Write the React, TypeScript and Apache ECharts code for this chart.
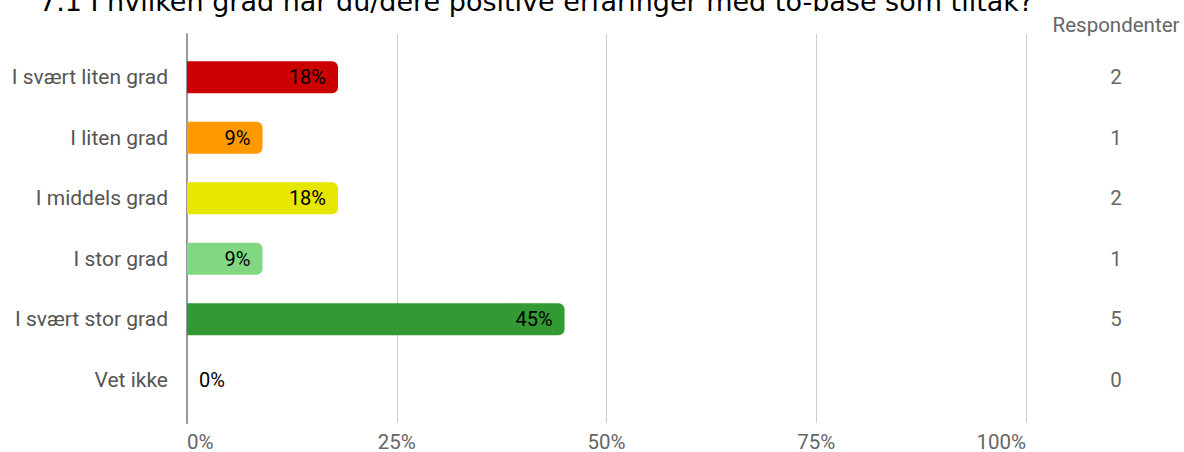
import React, { useEffect, useRef } from "react";
import * as echarts from "echarts";

const TITLE = "7.1 I hvilken grad har du/dere positive erfaringer med to-base som tiltak?";
const categories = ["I svært liten grad", "I liten grad", "I middels grad", "I stor grad", "I svært stor grad", "Vet ikke"];
const percentages = [18, 9, 18, 9, 45, 0];
const respondents = [2, 1, 2, 1, 5, 0];
const barColors = ["#cc0000", "#ff9900", "#e6e600", "#82d882", "#339933", "#cccccc"];
const xTicks = [0, 25, 50, 75, 100];

export default function App() {
  const ref = useRef<HTMLDivElement>(null);
  useEffect(() => {
    if (!ref.current) return;
    const chart = echarts.init(ref.current, null, { renderer: "svg" });
    const font = "Roboto";
    const GL = 187, GR = 1184 - 1026;
    chart.setOption({
      animation: false,
      textStyle: { fontFamily: font },
      grid: [
        { left: GL, right: GR, top: 34, bottom: 29 },
        { left: GL, right: GR, top: 47, bottom: 42 },
      ],
      xAxis: [
        {
          gridIndex: 0,
          type: "value",
          min: xTicks[0],
          max: xTicks[xTicks.length - 1],
          interval: 25,
          axisLine: { show: false },
          axisTick: { show: false },
          splitLine: { show: true, lineStyle: { color: "#cccccc", width: 1 } },
          axisLabel: {
            formatter: (v: number) => v + "%",
            color: "#666666",
            fontSize: 20.5,
            fontFamily: font,
            margin: 8,
            alignMinLabel: "left",
            alignMaxLabel: "right",
          },
        },
        {
          gridIndex: 1,
          type: "value",
          min: 0,
          max: 100,
          show: false,
        },
      ],
      yAxis: [
        {
          gridIndex: 0,
          type: "value",
          min: 0,
          max: 1,
          axisLine: { show: true, lineStyle: { color: "#999999", width: 2 } },
          axisTick: { show: false },
          axisLabel: { show: false },
          splitLine: { show: false },
        },
        {
          gridIndex: 1,
          type: "category",
          data: categories,
          inverse: true,
          axisLine: { show: false },
          axisTick: { show: false },
          splitLine: { show: false },
          axisLabel: { color: "#555555", fontSize: 21, fontFamily: font, margin: 19 },
        },
        {
          gridIndex: 1,
          type: "category",
          position: "right",
          data: respondents.map(String),
          inverse: true,
          axisLine: { show: false },
          axisTick: { show: false },
          splitLine: { show: false },
          axisLabel: { color: "#666666", fontSize: 20.5, fontFamily: font, margin: 90, align: "center" },
        },
      ],
      series: [
        {
          type: "bar",
          xAxisIndex: 1,
          yAxisIndex: 1,
          barWidth: 32,
          data: percentages.map((v, i) => ({
            value: v,
            itemStyle: { color: barColors[i], borderRadius: [0, 6, 6, 0] },
            label:
              v === 0
                ? { show: true, position: "right", distance: 12 }
                : { show: true, position: "insideRight", distance: 12 },
          })),
          label: {
            show: true,
            color: "#000000",
            fontSize: 20,
            fontFamily: font,
            formatter: (p: any) => p.value + "%",
          },
        },
      ],
      graphic: [
        {
          type: "text",
          x: 39,
          y: -12,
          style: { text: TITLE, fill: "#000000", font: "27px 'DejaVu Sans'", verticalAlign: "top" },
        },
        {
          type: "text",
          x: 1116,
          y: 25,
          style: {
            text: "Respondenter",
            fill: "#666666",
            font: "20.5px Roboto",
            align: "center",
            verticalAlign: "middle",
          },
        },
      ],
    });
    return () => chart.dispose();
  }, []);
  return <div ref={ref} style={{ width: 1184, height: 452, position: "absolute", left: 0, top: 0 }} />;
}
